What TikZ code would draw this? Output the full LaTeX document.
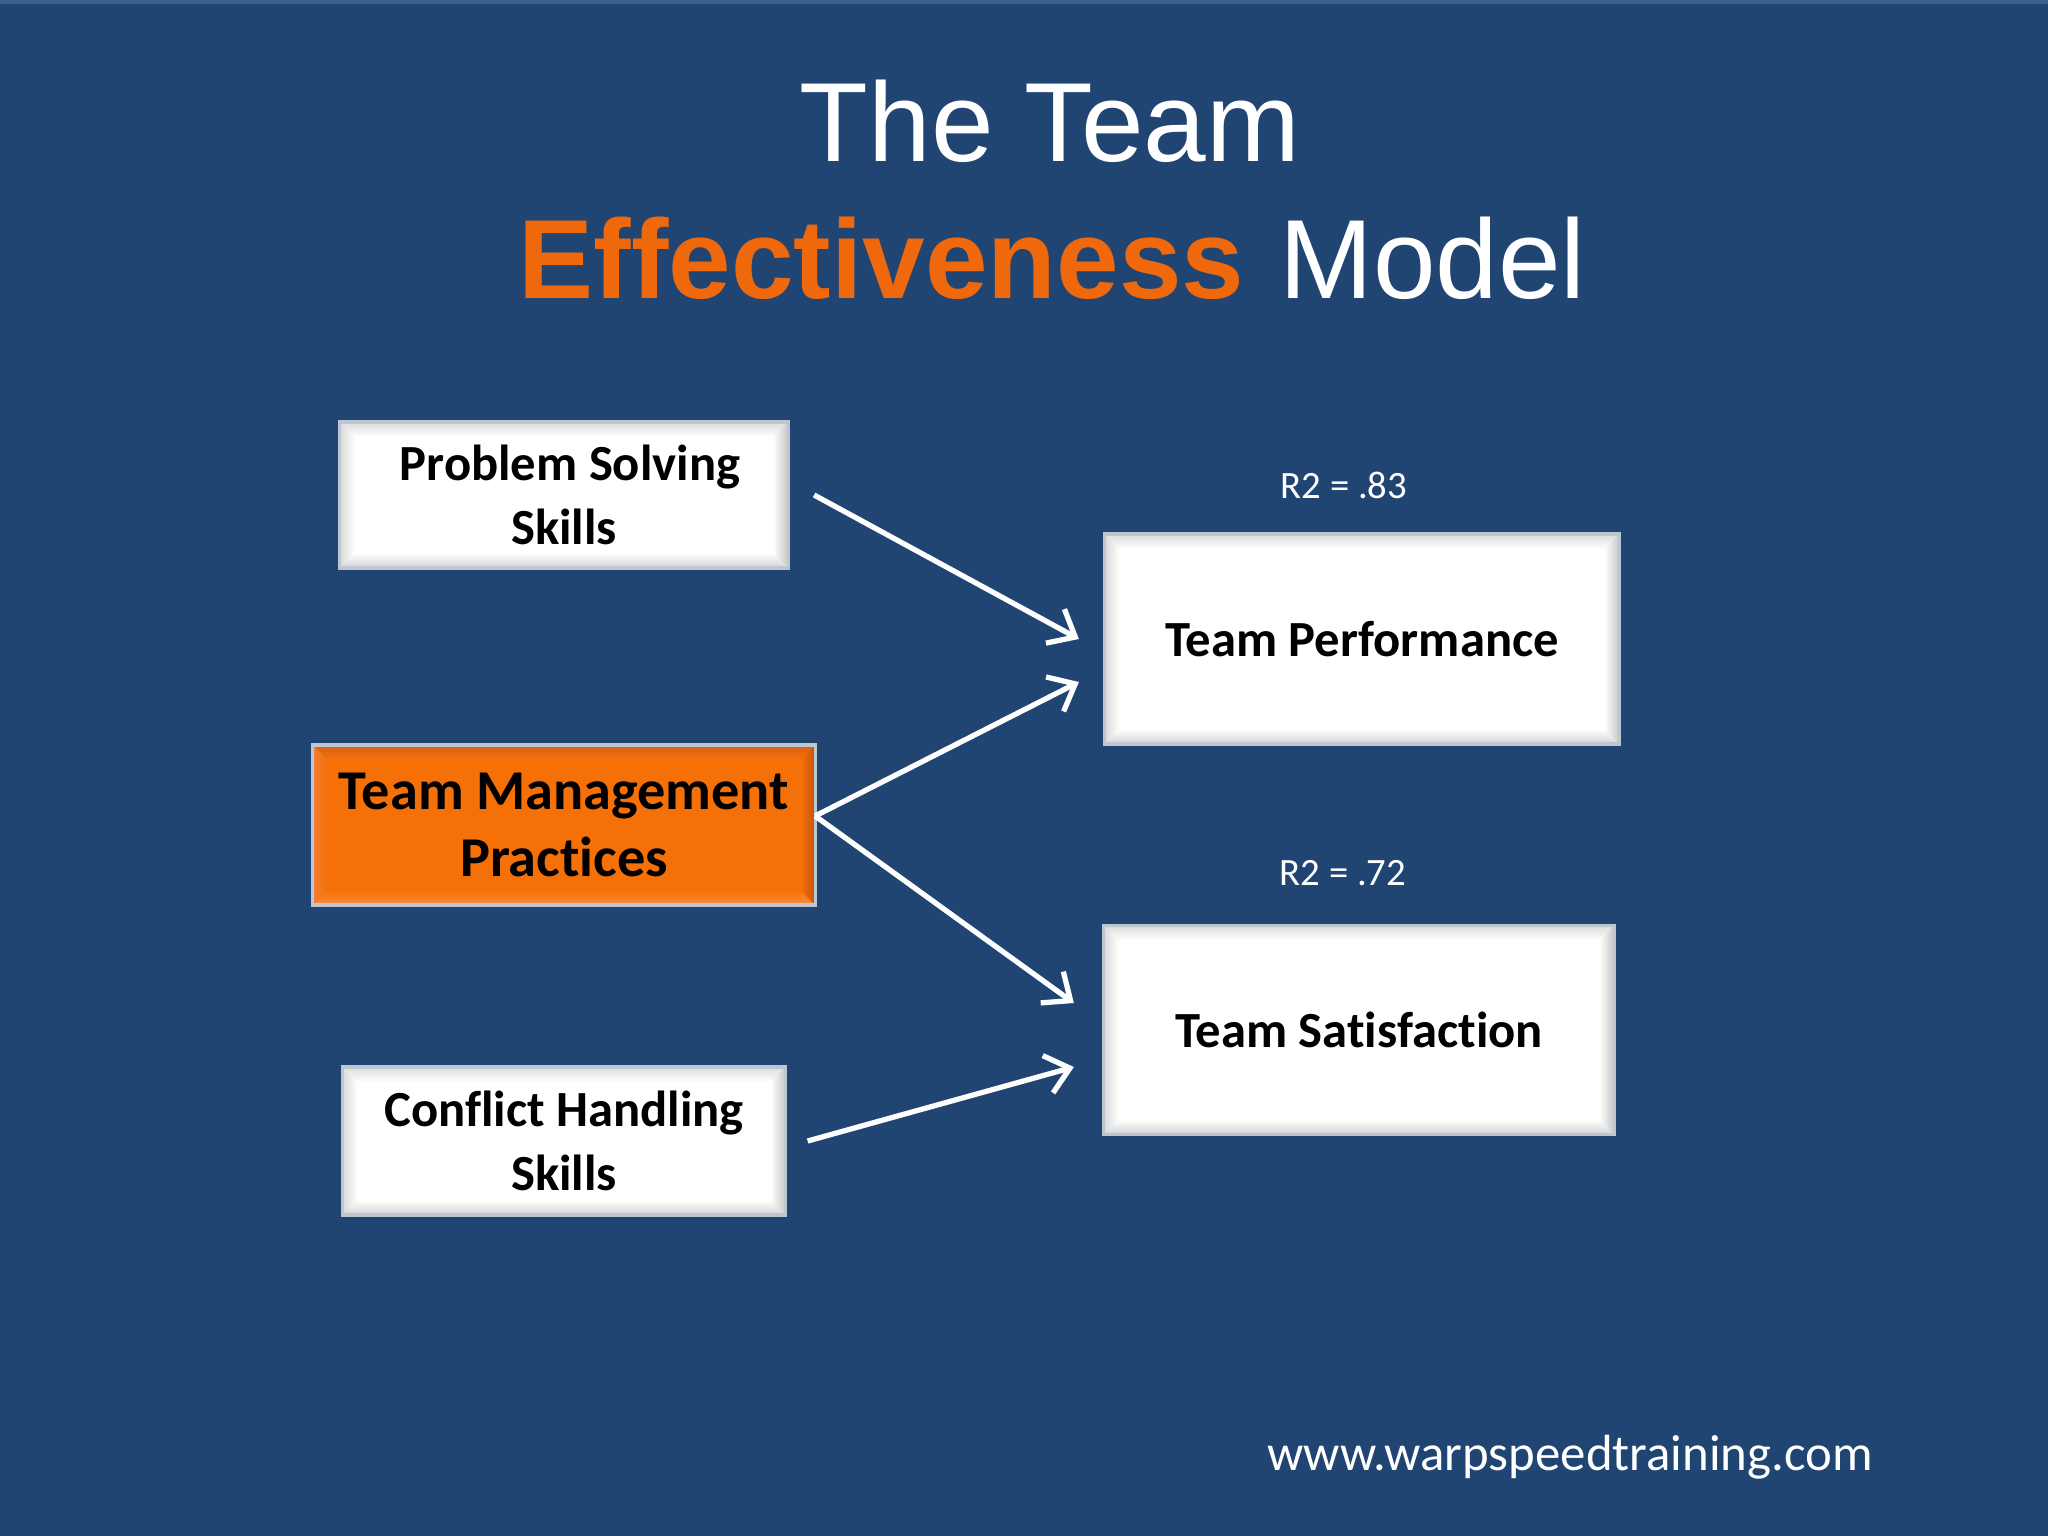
\documentclass[tikz,border=0pt]{standalone}
\usepackage{fontspec}
\setmainfont{Carlito}[Ligatures={NoCommon,NoDiscretionary,NoRare,NoContextual}]
\newfontfamily\arialf{Liberation Sans}
\usetikzlibrary{arrows.meta,calc}
\definecolor{bgblue}{RGB}{32,69,115}
\definecolor{topstrip}{RGB}{62,96,140}
\definecolor{orng}{RGB}{240,104,12}
\definecolor{boxorange}{RGB}{246,112,8}
\definecolor{edgegray}{RGB}{190,198,210}
\definecolor{otop}{RGB}{214,98,26}
\definecolor{oleft}{RGB}{240,128,50}
\definecolor{obot}{RGB}{250,142,62}
\definecolor{oright}{RGB}{196,84,10}
\newcommand{\mybevel}[6]{%
  \shade[top color=#3, bottom color=#2] (#1.north west) -- (#1.north east) -- ([shift={(-15,15)}]#1.north east) -- ([shift={(15,15)}]#1.north west) -- cycle;
  \shade[left color=#4, right color=#2] (#1.north west) -- ([shift={(15,15)}]#1.north west) -- ([shift={(15,-15)}]#1.south west) -- (#1.south west) -- cycle;
  \shade[top color=#2, bottom color=#5] (#1.south west) -- ([shift={(15,-15)}]#1.south west) -- ([shift={(-15,-15)}]#1.south east) -- (#1.south east) -- cycle;
  \shade[left color=#2, right color=#6] (#1.north east) -- ([shift={(-15,15)}]#1.north east) -- ([shift={(-15,-15)}]#1.south east) -- (#1.south east) -- cycle;
  \draw[edgegray, line width=0.9pt] (#1.north west) rectangle (#1.south east);}
\tikzset{
  wbox/.style={fill=white, draw=edgegray, line width=0.9pt, outer sep=0pt, inner sep=0pt,
    align=center, text=black, font=\fontsize{14.4}{18}\selectfont\bfseries},
  obox/.style={wbox, fill=boxorange, font=\fontsize{16}{19.3}\selectfont\bfseries},
  arr/.style={draw=white, line width=1.5pt, -{Straight Barb[length=6.5pt,width=11pt]}},
  r2lab/.style={text=white, anchor=base, font=\fontsize{11}{13}\selectfont},
  titlef/.style={anchor=base, text=white, font=\arialf\fontsize{32}{38}\selectfont},
  effont/.style={font=\arialf\fontsize{32}{38}\selectfont\bfseries},
}
\begin{document}
\begin{tikzpicture}[x=0.01cm, y=-0.01cm]
\fill[bgblue] (0,0) rectangle (2048,1536);
\fill[topstrip] (0,0) rectangle (2048,4);
\useasboundingbox (0,0) rectangle (2048,1536);

% title
\node[titlef] (t1) at (1050,161) {The Team};
\node[anchor=base west, text=orng, effont, inner sep=2pt] (t2) at (511,298) {Effectiveness};
\node[titlef, anchor=base west] (t3) at (1267,298) {Model};

% boxes
\node[wbox, minimum width=4.48cm, minimum height=1.46cm] (pss) at (564,495) {\hspace*{0.12cm}Problem Solving\\Skills};
\mybevel{pss}{white}{gray!28}{gray!30}{gray!35}{gray!45}
\node[obox, minimum width=5.02cm, minimum height=1.60cm] (tmp) at (564,825) {Team Management\\Practices};
\mybevel{tmp}{boxorange}{otop}{oleft}{obot}{oright}
\node[wbox, minimum width=4.43cm, minimum height=1.48cm] (chs) at (564,1141) {Conflict Handling\\Skills};
\mybevel{chs}{white}{gray!28}{gray!30}{gray!35}{gray!45}
\node[wbox, minimum width=5.14cm, minimum height=2.10cm] (tp) at (1362,639) {Team Performance};
\mybevel{tp}{white}{gray!28}{gray!30}{gray!35}{gray!45}
\node[wbox, minimum width=5.10cm, minimum height=2.09cm] (ts) at (1359,1030) {Team Satisfaction};
\mybevel{ts}{white}{gray!28}{gray!30}{gray!35}{gray!45}

% labels
\node[r2lab] (r1) at (1344,498) {R2 = .83};
\node[r2lab] (r2) at (1343,885) {R2 = .72};

% arrows
\draw[arr] ([shift={(26,0)}]pss.east) -- ([shift={(-26,0)}]tp.west);
\draw[arr] ([shift={(0,-9)}]tmp.east) -- ([shift={(-26,43)}]tp.west);
\draw[arr] ([shift={(0,-9)}]tmp.east) -- ([shift={(-30,-27)}]ts.west);
\draw[arr] ([shift={(22,0)}]chs.east) -- ([shift={(-30,37)}]ts.west);

% url
\node[anchor=base, text=white, font=\fontsize{14.45}{17}\selectfont] (url) at (1570,1470) {www.warpspeedtraining.com};
\end{tikzpicture}
\end{document}
